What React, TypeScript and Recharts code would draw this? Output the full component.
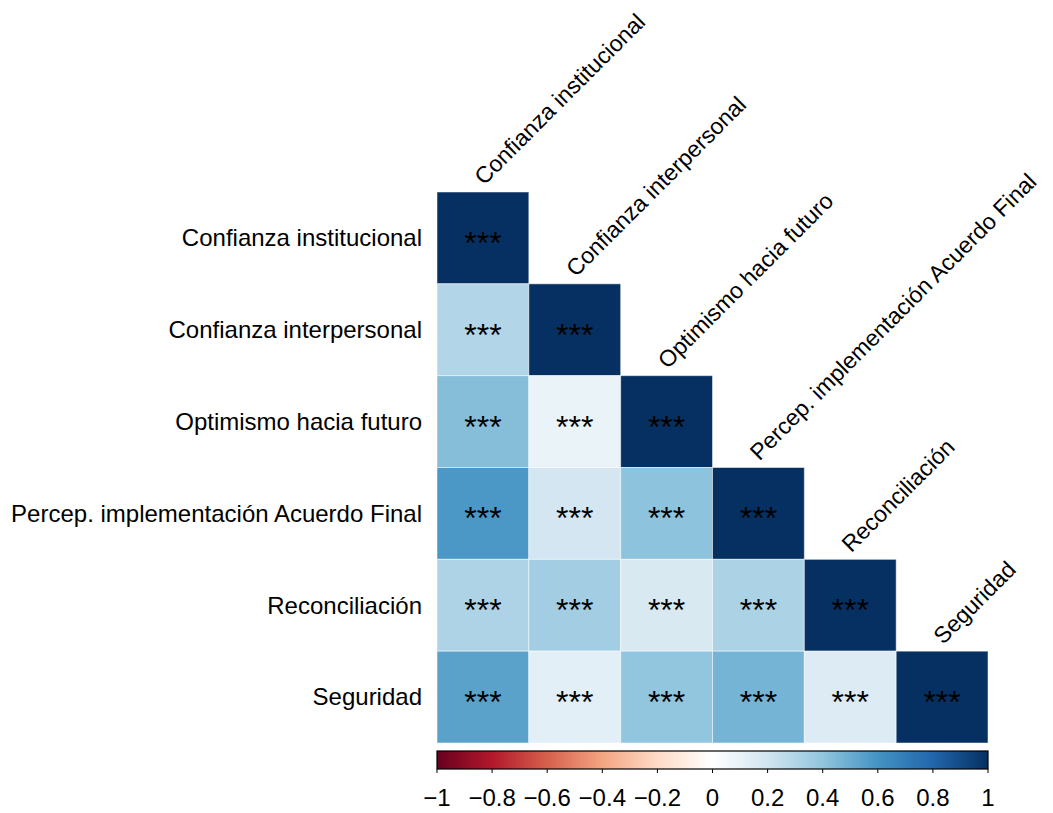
import React from "react";
import {
  ScatterChart,
  Scatter,
  XAxis,
  YAxis,
  Customized,
} from "recharts";

// variables, in order (rows top->bottom, cols left->right)
const variables = [
  "Confianza institucional",
  "Confianza interpersonal",
  "Optimismo hacia futuro",
  "Percep. implementación Acuerdo Final",
  "Reconciliación",
  "Seguridad",
];

// lower triangle of the correlation matrix, one row per variable
const corrRow1 = [1];
const corrRow2 = [0.3, 1];
const corrRow3 = [0.43, 0.09, 1];
const corrRow4 = [0.58, 0.19, 0.41, 1];
const corrRow5 = [0.31, 0.35, 0.17, 0.32, 1];
const corrRow6 = [0.54, 0.12, 0.4, 0.47, 0.15, 1];
const corrRows = [corrRow1, corrRow2, corrRow3, corrRow4, corrRow5, corrRow6];

// every pair is p < .001
const sigStars = "***";

const colorbarTicks = [-1, -0.8, -0.6, -0.4, -0.2, 0, 0.2, 0.4, 0.6, 0.8, 1];

// RdBu palette, -1 .. 1
const rdbu = [
  "#67001F", "#B2182B", "#D6604D", "#F4A582", "#FDDBC7", "#FFFFFF",
  "#D1E5F0", "#92C5DE", "#4393C3", "#2166AC", "#053061",
];

// chart covers the whole page (shifted over the body margin)
const W = 1053;
const H = 813;
const PLOT_LEFT = 437;
const PLOT_TOP = 192;
const PLOT_RIGHT = 988;
const PLOT_BOTTOM = 743;
const N = variables.length;
const CELL = (PLOT_RIGHT - PLOT_LEFT) / N;
const FONT = "'Liberation Sans', Arial, Helvetica, sans-serif";

const hexToRgb = (h: string) => [
  parseInt(h.slice(1, 3), 16),
  parseInt(h.slice(3, 5), 16),
  parseInt(h.slice(5, 7), 16),
];

const corrColor = (v: number) => {
  const t = ((v + 1) / 2) * (rdbu.length - 1);
  const i = Math.min(Math.floor(t), rdbu.length - 2);
  const f = t - i;
  const a = hexToRgb(rdbu[i]);
  const b = hexToRgb(rdbu[i + 1]);
  const c = a.map((x, k) => Math.round(x + (b[k] - x) * f));
  return `rgb(${c[0]},${c[1]},${c[2]})`;
};

const cells: { x: number; y: number; r: number }[] = [];
corrRows.forEach((row, i) => {
  row.forEach((r, j) => {
    cells.push({ x: j + 1, y: i + 1, r });
  });
});

const CorrCell = (props: any) => {
  const { cx, cy, payload } = props;
  if (cx == null || cy == null) return null;
  return (
    <g>
      <rect
        x={cx - CELL / 2}
        y={cy - CELL / 2}
        width={CELL}
        height={CELL}
        fill={corrColor(payload.r)}
        stroke="#ffffff"
        strokeOpacity={0.5}
        strokeWidth={1}
      />
      <text
        x={cx}
        y={cy + 16}
        textAnchor="middle"
        fontSize={32}
        fontFamily={FONT}
        fill="#000"
      >
        {sigStars}
      </text>
    </g>
  );
};

const RowTick = (props: any) => {
  const { x, y, payload } = props;
  return (
    <text
      x={x}
      y={y}
      dy="0.35em"
      textAnchor="end"
      fontSize={24}
      fontFamily={FONT}
      fill="#000"
    >
      {variables[payload.value - 1]}
    </text>
  );
};

// column labels sit on the diagonal, above each column's top cell
const ColTick = (props: any) => {
  const { x, payload } = props;
  const idx = payload.value - 1;
  const tx = x + 1;
  const ty = PLOT_TOP - 6 + idx * CELL;
  return (
    <text
      x={tx}
      y={ty}
      transform={`rotate(-45 ${tx} ${ty})`}
      textAnchor="start"
      fontSize={23}
      fontFamily={FONT}
      fill="#000"
    >
      {variables[idx]}
    </text>
  );
};

const CbTick = (props: any) => {
  const { x, payload } = props;
  const label = payload.value < 0 ? `\u2212${Math.abs(payload.value)}` : `${payload.value}`;
  return (
    <g>
      <line x1={x} x2={x} y1={PLOT_BOTTOM + 26} y2={PLOT_BOTTOM + 30} stroke="#000" />
      <text
        x={x}
        y={PLOT_BOTTOM + 63}
        textAnchor="middle"
        fontSize={24}
        fontFamily={FONT}
        fill="#000"
      >
        {label}
      </text>
    </g>
  );
};

const ColorBar = () => (
  <g>
    <defs>
      <linearGradient id="rdbuGrad" x1="0" x2="1" y1="0" y2="0">
        {rdbu.map((c, i) => (
          <stop key={i} offset={i / (rdbu.length - 1)} stopColor={c} />
        ))}
      </linearGradient>
    </defs>
    <rect
      x={PLOT_LEFT}
      y={PLOT_BOTTOM + 8}
      width={PLOT_RIGHT - PLOT_LEFT}
      height={18}
      fill="url(#rdbuGrad)"
      stroke="#000"
      strokeWidth={1.2}
    />
  </g>
);

export default function App() {
  return (
    <div
      style={{
        position: "relative",
        left: -8,
        top: -8,
        width: W,
        height: H,
        background: "#fff",
      }}
    >
      <ScatterChart
        width={W}
        height={H}
        margin={{ top: 0, right: W - PLOT_RIGHT, bottom: 0, left: 0 }}
      >
        <XAxis
          type="number"
          dataKey="x"
          orientation="top"
          domain={[0.5, N + 0.5]}
          ticks={[1, 2, 3, 4, 5, 6]}
          height={PLOT_TOP}
          axisLine={false}
          tickLine={false}
          tick={<ColTick />}
          interval={0}
        />
        <XAxis
          xAxisId="cb"
          type="number"
          dataKey="v"
          orientation="bottom"
          domain={[-1, 1]}
          ticks={colorbarTicks}
          height={H - PLOT_BOTTOM}
          axisLine={false}
          tickLine={false}
          tick={<CbTick />}
          interval={0}
          allowDataOverflow
        />
        <YAxis
          type="number"
          dataKey="y"
          domain={[0.5, N + 0.5]}
          ticks={[1, 2, 3, 4, 5, 6]}
          reversed
          width={PLOT_LEFT}
          axisLine={false}
          tickLine={false}
          tickSize={0}
          tickMargin={15}
          tick={<RowTick />}
          interval={0}
        />
        <Scatter
          data={cells}
          shape={<CorrCell />}
          isAnimationActive={false}
        />
        <Scatter
          xAxisId="cb"
          data={colorbarTicks.map((v) => ({ v, y: 1 }))}
          dataKey="v"
          shape={() => <g />}
          isAnimationActive={false}
        />
        <Customized component={ColorBar} />
      </ScatterChart>
    </div>
  );
}
